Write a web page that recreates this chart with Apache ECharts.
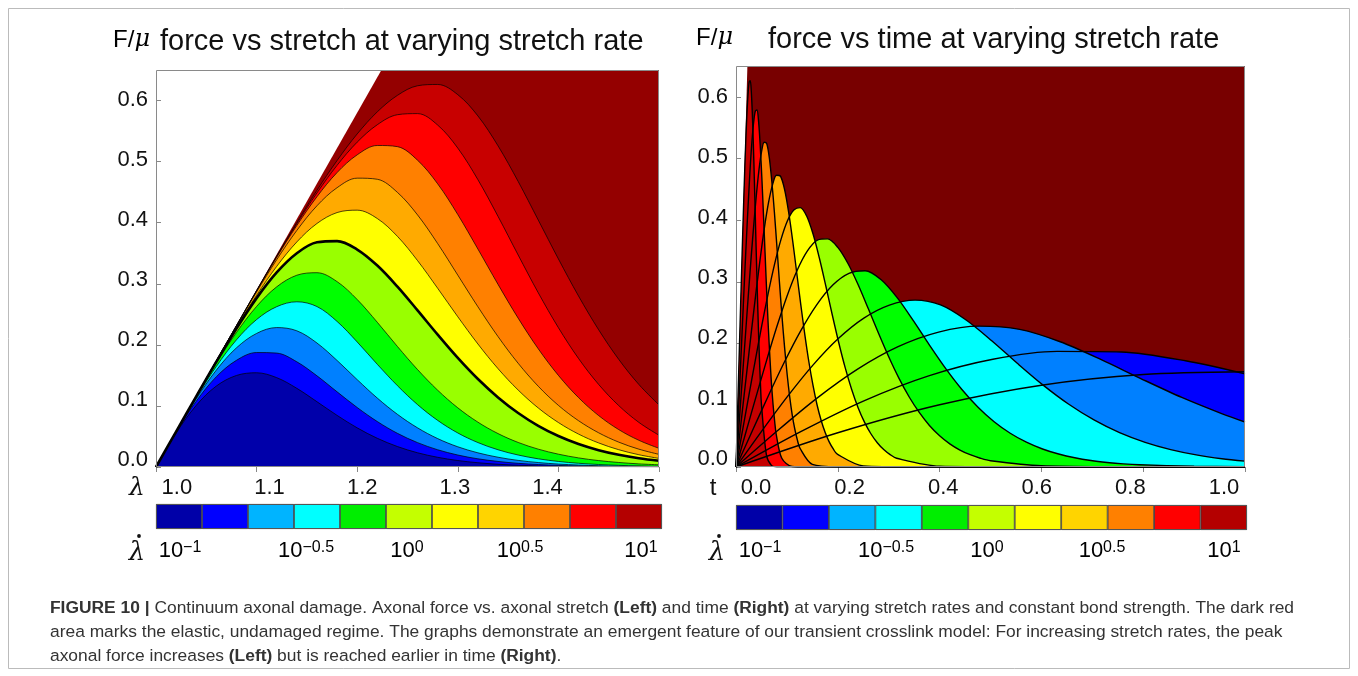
<!DOCTYPE html>
<html><head><meta charset="utf-8">
<script src="https://cdn.jsdelivr.net/npm/echarts@6/dist/echarts.min.js"></script>
<style>html,body{margin:0;padding:0;background:#fff}#c{width:1358px;height:676px}</style>
</head><body><div id="c"></div>
<script>
// ---------------- data ----------------
const lambdaGrid = [1.00,1.02,1.04,1.06,1.08,1.10,1.12,1.14,1.16,1.18,1.20,1.22,1.24,1.26,1.28,1.30,1.32,1.34,1.36,1.38,1.40,1.42,1.44,1.46,1.48,1.50];
const rateExponents = [-1,-0.8,-0.6,-0.4,-0.2,0,0.2,0.4,0.6,0.8,1];
const colorbarTickExponents = ['−1','−0.5','0','0.5','1'];
const lambdaTicks = [1.0,1.1,1.2,1.3,1.4,1.5];
const timeTicks = [0.0,0.2,0.4,0.6,0.8,1.0];
const forceTicks = [0.0,0.1,0.2,0.3,0.4,0.5,0.6];

// elastic (undamaged) limit
const elasticLambda = [1.0, 1.2241, 1.5];
const elasticForce = [0, 0.65, 0.65];
const elasticTime = [0, 0.0224, 1.0];
const elasticTimeForce = [0, 0.65, 0.65];

// F/mu vs lambda, one array per stretch rate (slowest -> fastest)
const f1 = [0,.0555,.1009,.1326,.1499,.1543,.1463,.1288,.1069,.0845,.0641,.0470,.0335,.0233,.0159,.0106,.0070,.0045,.0029,.0018,.0011,.0007,.0005,.0003,.0002,.0001];
const f2 = [0,.0569,.1077,.1478,.1747,.1874,.1865,.1722,.1493,.1231,.0974,.0744,.0551,.0399,.0282,.0196,.0134,.0091,.0060,.0040,.0026,.0017,.0011,.0007,.0005,.0003];
const f3 = [0,.0575,.1117,.1587,.1951,.2187,.2283,.2230,.2030,.1744,.1430,.1128,.0862,.0641,.0465,.0331,.0232,.0160,.0108,.0073,.0048,.0032,.0021,.0014,.0009,.0006];
const f4 = [0,.0578,.1136,.1647,.2082,.2414,.2625,.2705,.2627,.2383,.2047,.1681,.1331,.1021,.0763,.0557,.0400,.0282,.0196,.0134,.0091,.0061,.0041,.0027,.0018,.0012];
const f5 = [0,.0579,.1152,.1701,.2203,.2629,.2950,.3140,.3181,.3035,.2742,.2369,.1973,.1595,.1257,.0969,.0734,.0547,.0402,.0292,.0210,.0149,.0105,.0074,.0051,.0036];
const f6 = [0,.0580,.1157,.1725,.2268,.2765,.3186,.3500,.3679,.3698,.3560,.3298,.2953,.2564,.2167,.1786,.1440,.1139,.0884,.0674,.0507,.0376,.0275,.0199,.0142,.0101];
const f7 = [0,.0580,.1158,.1730,.2286,.2811,.3285,.3685,.3987,.4166,.4205,.4068,.3776,.3379,.2926,.2460,.2014,.1610,.1260,.0966,.0728,.0539,.0394,.0283,.0201,.0141];
const f8 = [0,.0580,.1160,.1737,.2309,.2866,.3394,.3873,.4277,.4573,.4729,.4711,.4496,.4127,.3658,.3141,.2623,.2135,.1698,.1322,.1009,.0758,.0560,.0407,.0292,.0207];
const f9 = [0,.0580,.1160,.1739,.2315,.2883,.3434,.3954,.4425,.4821,.5111,.5264,.5245,.5023,.4636,.4133,.3568,.2990,.2437,.1935,.1500,.1136,.0842,.0612,.0437,.0306];
const f10 = [0,.0580,.1160,.1739,.2316,.2887,.3446,.3983,.4487,.4939,.5319,.5604,.5768,.5786,.5598,.5221,.4704,.4103,.3471,.2852,.2281,.1777,.1352,.1005,.0730,.0520];
const f11 = [0,.0580,.1160,.1739,.2317,.2891,.3456,.4005,.4531,.5018,.5453,.5815,.6085,.6242,.6263,.6096,.5748,.5258,.4675,.4043,.3407,.2800,.2247,.1762,.1351,.1016];

// time of each sample (right panel) and the force of the extra late-time samples
const time1 = [0,.2,.4,.6,.8,1.0];
const tailForce1 = [];
const time2 = [0,.1262,.2524,.3785,.5047,.6309,.7571,.8833,1.0];
const tailForce2 = [.151];
const time3 = [0,.0796,.1592,.2389,.3185,.3981,.4777,.5573,.6369,.7166,.7962,.8758,.9554,1.0];
const tailForce3 = [.073];
const time4 = [0,.0502,.1005,.1507,.2010,.2512,.3014,.3517,.4019,.4521,.5024,.5526,.6028,.6531,.7033,.7535,.8038,.8540,.9042,.9545,1.0];
const tailForce4 = [.0095];
const time5 = [0,.0317,.0634,.0951,.1268,.1585,.1902,.2219,.2536,.2853,.3170,.3487,.3804,.4121,.4438,.4755,.5071,.5388,.5705,.6022,.6339,.6656,.6973,.7290,.7607,.7924,.9,1.0];
const tailForce5 = [.0012,.0004];
const time6 = [0,.02,.04,.06,.08,.10,.12,.14,.16,.18,.20,.22,.24,.26,.28,.30,.32,.34,.36,.38,.40,.42,.44,.46,.48,.50,.6,.75,1.0];
const tailForce6 = [.002,.0004,0];
const time7 = [0,.0126,.0252,.0379,.0505,.0631,.0757,.0883,.1009,.1136,.1262,.1388,.1514,.1640,.1767,.1893,.2019,.2145,.2271,.2397,.2524,.2650,.2776,.2902,.3028,.3155,.4,.55,1.0];
const tailForce7 = [.0012,.0002,0];
const time8 = [0,.0080,.0159,.0239,.0318,.0398,.0478,.0557,.0637,.0717,.0796,.0876,.0955,.1035,.1115,.1194,.1274,.1354,.1433,.1513,.1592,.1672,.1752,.1831,.1911,.1990,.25,.35,1.0];
const tailForce8 = [.0018,.0002,0];
const time9 = [0,.0050,.0100,.0151,.0201,.0251,.0301,.0352,.0402,.0452,.0502,.0553,.0603,.0653,.0703,.0754,.0804,.0854,.0904,.0955,.1005,.1055,.1105,.1156,.1206,.1256,.15,.2,1.0];
const tailForce9 = [.0044,.0005,0];
const time10 = [0,.0032,.0063,.0095,.0127,.0158,.0190,.0222,.0254,.0285,.0317,.0349,.0380,.0412,.0444,.0475,.0507,.0539,.0571,.0602,.0634,.0666,.0697,.0729,.0761,.0792,.09,.11,.14,1.0];
const tailForce10 = [.0142,.0008,0,0];
const time11 = [0,.002,.004,.006,.008,.010,.012,.014,.016,.018,.020,.022,.024,.026,.028,.030,.032,.034,.036,.038,.040,.042,.044,.046,.048,.050,.06,.07,.08,1.0];
const tailForce11 = [.0183,.0022,.0002,0];

// ---------------- styles ----------------
const fillLeft = ['#0000aa','#0000ff','#0080ff','#00ffff','#00ff00','#99ff00','#ffff00','#ffaa00','#ff8000','#ff0000','#c80000'];
const fillRight = ['#0000aa','#0000ff','#0080ff','#00ffff','#00ff00','#99ff00','#ffff00','#ffaa00','#ff8000','#ff0000','#c40000'];
const colorbarPalette = ['#0000a8','#0000ff','#00b4ff','#00ffff','#00ee00','#c4ff00','#ffff00','#ffd400','#ff8000','#ff0000','#b40000'];
const SANS = "'Liberation Sans', Arial, sans-serif";
const SERIF = "'DejaVu Serif', 'Liberation Serif', serif";
const NARROW = "'Liberation Sans Narrow', 'Liberation Sans', sans-serif";

const forceCurves = [f1,f2,f3,f4,f5,f6,f7,f8,f9,f10,f11];
const timeCurves = [time1,time2,time3,time4,time5,time6,time7,time8,time9,time10,time11];
const tailCurves = [tailForce1,tailForce2,tailForce3,tailForce4,tailForce5,tailForce6,tailForce7,tailForce8,tailForce9,tailForce10,tailForce11];

const series = [];
// left panel
series.push({type:'line', xAxisIndex:0, yAxisIndex:0, data: elasticLambda.map((l,i)=>[l, elasticForce[i]]),
  symbol:'none', lineStyle:{width:0}, areaStyle:{color:'#940000', opacity:1}, silent:true, z:2});
for (let k = 10; k >= 0; k--) {
  series.push({type:'line', xAxisIndex:0, yAxisIndex:0, smooth:0.35,
    data: lambdaGrid.map((l,i)=>[l, forceCurves[k][i]]),
    symbol:'none', lineStyle:{color:'#000', width: k === 5 ? 2.6 : 0.7},
    areaStyle:{color: fillLeft[k], opacity:1}, silent:true, z:2});
}
// right panel
series.push({type:'line', xAxisIndex:2, yAxisIndex:2, data: elasticTime.map((t,i)=>[t, elasticTimeForce[i]]),
  symbol:'none', lineStyle:{width:0}, areaStyle:{color:'#780000', opacity:1}, silent:true, z:2});
const rightData = timeCurves.map((ts,k)=>{
  const nGrid = ts.length - tailCurves[k].length;
  return ts.map((t,i)=>[t, i < nGrid ? forceCurves[k][i] : tailCurves[k][i - nGrid]]);
});
for (let k = 0; k < 11; k++) {
  series.push({type:'line', xAxisIndex:2, yAxisIndex:2, smooth:0.3, data: rightData[k],
    symbol:'none', lineStyle:{width:0}, areaStyle:{color: fillRight[k], opacity:1}, silent:true, z:2});
}
for (let k = 0; k < 11; k++) {
  series.push({type:'line', xAxisIndex:2, yAxisIndex:2, smooth:0.3, data: rightData[k],
    symbol:'none', lineStyle:{color:'#000', width:1.4}, silent:true, z:3});
}
// colorbars
[4,5].forEach(ax => {
  series.push({type:'bar', xAxisIndex:ax, yAxisIndex:ax, barWidth:'100%', barCategoryGap:0, silent:true,
    data: rateExponents.map((e,i)=>({value:1, itemStyle:{color: colorbarPalette[i]}})),
    itemStyle:{borderColor:'#333', borderWidth:0.8}});
});

const tickStyle = {show:true, inside:true, length:5, lineStyle:{color:'#888', width:1}};
const labelStyle = {color:'#111', fontFamily:SANS, fontSize:22};
const fmt1 = v => Number(v).toFixed(1);
const fmu = {a:{fontFamily:SANS, fontSize:24, color:'#111'}, b:{fontFamily:SERIF, fontStyle:'italic', fontSize:24, color:'#111'}};

const xAxis = [
  {gridIndex:0, type:'value', min:1, max:1.5, position:'top', axisLine:{show:false}, axisTick:Object.assign({customValues:lambdaTicks}, tickStyle), axisLabel:{show:false}, splitLine:{show:false}},
  {gridIndex:0, type:'value', min:0.97745, max:1.52028, position:'bottom', axisLine:{show:false}, axisTick:{show:false}, splitLine:{show:false},
   axisLabel:Object.assign({customValues:lambdaTicks, formatter:fmt1, margin:10}, labelStyle)},
  {gridIndex:1, type:'value', min:0, max:1, position:'top', axisLine:{show:false}, axisTick:Object.assign({customValues:timeTicks}, tickStyle), axisLabel:{show:false}, splitLine:{show:false}},
  {gridIndex:1, type:'value', min:-0.0427, max:1.0449, position:'bottom', axisLine:{show:false}, axisTick:{show:false}, splitLine:{show:false},
   axisLabel:Object.assign({customValues:timeTicks, formatter:fmt1, margin:10}, labelStyle)},
  {gridIndex:2, type:'category', data: rateExponents.map(String), show:false},
  {gridIndex:3, type:'category', data: rateExponents.map(String), show:false}
];
const yAxis = [
  {gridIndex:0, type:'value', min:0, max:0.65, position:'left', axisLine:{show:false}, axisTick:Object.assign({customValues:forceTicks}, tickStyle), axisLabel:{show:false}, splitLine:{show:false}},
  {gridIndex:0, type:'value', min:-0.01115, max:0.6491, position:'left', axisLine:{show:false}, axisTick:{show:false}, splitLine:{show:false},
   axisLabel:Object.assign({customValues:forceTicks, formatter:fmt1, margin:8}, labelStyle)},
  {gridIndex:1, type:'value', min:0, max:0.65, position:'left', axisLine:{show:false}, axisTick:Object.assign({customValues:forceTicks}, tickStyle), axisLabel:{show:false}, splitLine:{show:false}},
  {gridIndex:1, type:'value', min:-0.01376, max:0.6517, position:'left', axisLine:{show:false}, axisTick:{show:false}, splitLine:{show:false},
   axisLabel:Object.assign({customValues:forceTicks, formatter:fmt1, margin:8}, labelStyle)},
  {gridIndex:2, type:'value', min:0, max:1, show:false},
  {gridIndex:3, type:'value', min:0, max:1, show:false}
];

const grids = [
  {left:156, top:70, width:503, height:397},
  {left:736, top:66, width:509, height:401},
  {left:156, top:504, width:506, height:25},
  {left:736, top:505, width:511, height:25}
];

const supRich = {b:{fontFamily:SANS, fontSize:22, lineHeight:22, verticalAlign:'bottom', color:'#111'},
                 s:{fontFamily:SANS, fontSize:16, lineHeight:14, verticalAlign:'top', color:'#111'}};
const cbLabelX = [[180,306,407,520,641],[760,886,987,1102,1224]];
const cbNameX = [137, 717];
const graphic = [];
grids.forEach(g => graphic.push({type:'rect', silent:true, z:100,
  shape:{x:g.left+0.5, y:g.top+0.5, width:g.width-1, height:g.height-1},
  style:{fill:'none', stroke: g.height < 50 ? '#555' : '#8a8a8a', lineWidth:1}}));
// axis names: F/mu (y), lambda and t (x)
[[150, 40], [733, 38]].forEach(p => graphic.push({type:'text', silent:true, z:100,
  style:{x:p[0], y:p[1], text:'{a|F/}{b|μ}', align:'right', verticalAlign:'middle', rich:fmu}}));
graphic.push({type:'text', silent:true, z:100, style:{x:137, y:488, text:'λ', align:'center', verticalAlign:'middle',
  fontFamily:SERIF, fontStyle:'italic', fontSize:25, fill:'#111'}});
graphic.push({type:'text', silent:true, z:100, style:{x:713, y:488, text:'t', align:'center', verticalAlign:'middle',
  fontFamily:SANS, fontSize:24, fill:'#111'}});
cbLabelX.forEach((xs,p) => {
  xs.forEach((x,i) => graphic.push({type:'text', silent:true, z:100,
    style:{x:x, y:551, text:'{b|10}{s|' + colorbarTickExponents[i] + '}', align:'center', verticalAlign:'middle', rich:supRich}}));
  graphic.push({type:'text', silent:true, z:100,
    style:{x: cbNameX[p], y:553, text:'λ', align:'center', verticalAlign:'middle',
      fontFamily:SERIF, fontStyle:'italic', fontSize:26, fill:'#111'}});
  graphic.push({type:'circle', silent:true, z:100, shape:{cx: cbNameX[p] + 2, cy:536, r:1.9}, style:{fill:'#111'}});
});
graphic.push({type:'rect', silent:true, z:0, shape:{x:8.5, y:8.5, width:1341, height:660}, style:{fill:'none', stroke:'#bbb', lineWidth:1}});
graphic.push({type:'text', silent:true, z:100,
  style:{x:50, y:596,
    text:'{b|FIGURE 10 |} Continuum axonal damage. Axonal force vs. axonal stretch {b|(Left)} and time {b|(Right)} at varying stretch rates and constant bond strength. The dark red\n' +
         'area marks the elastic, undamaged regime. The graphs demonstrate an emergent feature of our transient crosslink model: For increasing stretch rates, the peak\n' +
         'axonal force increases {b|(Left)} but is reached earlier in time {b|(Right)}.',
    fontFamily:NARROW, fontSize:17.4, lineHeight:24, fill:'#333',
    rich:{b:{fontFamily:NARROW, fontWeight:'bold', fontSize:17.4, lineHeight:24, color:'#333'}}}});

const option = {
  animation:false,
  backgroundColor:'#fff',
  title:[
    {text:'force vs stretch at varying stretch rate', left:160, top:27, padding:0, textStyle:{fontFamily:SANS, fontSize:29, fontWeight:'normal', color:'#111'}},
    {text:'force vs time at varying stretch rate', left:768, top:25, padding:0, textStyle:{fontFamily:SANS, fontSize:29, fontWeight:'normal', color:'#111'}}
  ],
  grid: grids,
  xAxis: xAxis,
  yAxis: yAxis,
  series: series,
  graphic: graphic
};
const chart = echarts.init(document.getElementById('c'), null, {renderer:'canvas', width:1358, height:676});
chart.setOption(option);
</script></body></html>
